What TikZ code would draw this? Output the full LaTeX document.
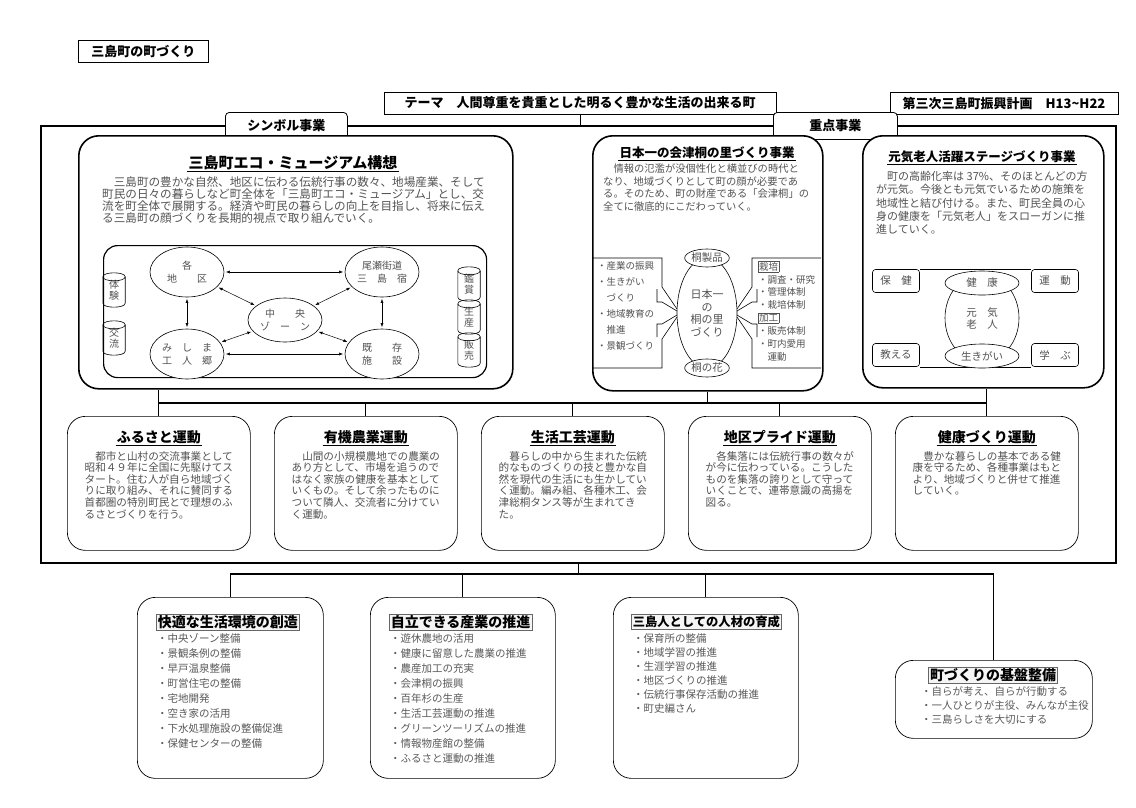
\documentclass[tikz,border=0pt]{standalone}
\usepackage{fontspec}
\setmainfont{Noto Sans CJK JP}
\usetikzlibrary{arrows.meta,calc,shapes.geometric}
\setlength\fboxsep{0.6pt}
\setlength\fboxrule{0.4pt}
\tikzset{
  hdr/.style={draw, line width=0.7, inner sep=0, font=\fontsize{13}{15}\selectfont\bfseries},
  tabbox/.style={draw, line width=0.8, rounded corners=4, fill=white, inner sep=0, anchor=north west, font=\fontsize{13}{15}\selectfont\bfseries},
  bigbox/.style={draw, line width=1.6, rounded corners=20, fill=white, inner sep=0, anchor=north west},
  movbox/.style={draw, line width=0.7, rounded corners=18, fill=white, inner sep=0, anchor=north west, minimum width=183, minimum height=134},
  botbox/.style={draw, line width=0.7, rounded corners=18, fill=white, inner sep=0, anchor=north west},
  ttlA/.style={inner sep=1, font=\fontsize{15}{17}\selectfont\bfseries},
  ttlB/.style={inner sep=1, font=\fontsize{12.5}{15}\selectfont\bfseries},
  ttlC/.style={inner sep=1, font=\fontsize{14}{16}\selectfont\bfseries},
  ul/.style={line width=0.8},
  bodytxt/.style={inner sep=0, align=left, text=black!68},
  ell/.style={ellipse, draw, line width=0.6, fill=white, inner sep=0, align=center, text=black!68, font=\fontsize{10}{13}\selectfont, minimum width=74, minimum height=50},
  cyltxt/.style={inner sep=0, minimum width=22, minimum height=26, align=center, text=black!68, font=\fontsize{10}{11}\selectfont},
  cylline/.style={line width=0.6},
  thinl/.style={line width=0.6},
  sbox/.style={draw, line width=0.6, rounded corners=3, minimum width=47, minimum height=23, inner sep=0, text=black!68, font=\fontsize{10.5}{12}\selectfont},
  sell/.style={ellipse, draw, line width=0.6, fill=white, inner sep=0, text=black!68, font=\fontsize{10.5}{12}\selectfont},
  dar/.style={<->, line width=0.5, shorten <=1.5pt, shorten >=1.5pt},
  conn/.style={line width=1.2},
  btitle/.style={draw=black!60, line width=0.5, fill=black!4, inner sep=1.5, font=\fontsize{14}{16}\selectfont\bfseries},
  bitems/.style={inner sep=0, align=left, text=black!65, font=\fontsize{10.5}{15}\selectfont},
}
\newcommand\mycyl[3]{%
  \node[cyltxt] (#1) at (#2) {#3};
  \draw[cylline] (#1.north west) -- (#1.south west) .. controls ($(#1.south west)+(0,5.3)$) and ($(#1.south east)+(0,5.3)$) .. (#1.south east) -- (#1.north east);
  \draw[cylline] (#1.north west) .. controls ($(#1.north west)+(0,-5.3)$) and ($(#1.north east)+(0,-5.3)$) .. (#1.north east) .. controls ($(#1.north east)+(0,5.3)$) and ($(#1.north west)+(0,5.3)$) .. (#1.north west);
}
\begin{document}
\begin{tikzpicture}[x=1pt,y=-1pt,>={Latex[length=4pt,width=3pt]}]
\useasboundingbox[fill=white] (0,0) rectangle (1136,807);

% ---------- header ----------
\node[hdr, minimum width=130, minimum height=22, anchor=north west] (ttl) at (78,40) {三島町の町づくり};
\node[hdr, minimum width=392, minimum height=22] (theme) at (580,103) {テーマ　人間尊重を貴重とした明るく豊かな生活の出来る町};
\node[hdr, minimum width=228, minimum height=22] (plan) at (1004,103) {第三次三島町振興計画　H13\string~H22};

% ---------- main frame ----------
\node[draw, line width=1.6, minimum width=1075, minimum height=437, anchor=north west, inner sep=0] (frame) at (40,125) {};
\draw[line width=0.9] (theme.south) -- (theme.south |- frame.north);

% ---------- tabs ----------
\node[tabbox, minimum width=122, minimum height=27] (symtab) at (225,112) {シンボル事業};
\node[tabbox, minimum width=124, minimum height=27] (jtab) at (773,112) {重点事業};

% ---------- big boxes ----------
\node[bigbox, minimum width=434, minimum height=253] (sym) at (78,135) {};
\node[bigbox, minimum width=230, minimum height=255] (mid) at (592,135) {};
\node[bigbox, minimum width=241, minimum height=252] (gen) at (862,135) {};

% ---------- symbol box ----------
\node[ttlA] (symttl) at (293,163) {三島町エコ・ミュージアム構想};
\draw[ul] (symttl.south west) -- (symttl.south east);
\node[bodytxt, anchor=north west, font=\fontsize{11.6}{12}\selectfont] (symtxt) at (102,176) {　三島町の豊かな自然、地区に伝わる伝統行事の数々、地場産業、そして\\町民の日々の暮らしなど町全体を「三島町エコ・ミュージアム」とし、交\\流を町全体で展開する。経済や町民の暮らしの向上を目指し、将来に伝え\\る三島町の顔づくりを長期的視点で取り組んでいく。};
\node[draw, line width=1.2, rounded corners=14, minimum width=383, minimum height=132, anchor=north west, inner sep=0] (inner) at (103,245) {};

\node[ell] (kaku) at (187,272) {各\\地　　区};
\node[ell] (oze) at (382,272) {尾瀬街道\\三　島　宿};
\node[ell, minimum height=44] (naka) at (285,320) {中　　央\\ゾ　ー　ン};
\node[ell] (mishi) at (187,354) {み　し　ま\\工　人　郷};
\node[ell] (kizon) at (382,354) {既　　存\\施　　設};
\draw[dar] (kaku) -- (oze);
\draw[dar] (mishi) -- (kizon);
\draw[dar] (kaku) -- (mishi);
\draw[dar] (oze) -- (kizon);
\draw[dar] (kaku) -- (naka);
\draw[dar] (oze) -- (naka);
\draw[dar] (mishi) -- (naka);
\draw[dar] (kizon) -- (naka);

\mycyl{cA}{114,290}{体\\験}
\mycyl{cB}{114,338}{交\\流}
\mycyl{cC}{469,284}{鑑\\賞}
\mycyl{cD}{469,317}{生\\産}
\mycyl{cE}{469,350}{販\\売}

% ---------- middle box ----------
\node[ttlB] (midttl) at (707,153) {日本一の会津桐の里づくり事業};
\draw[ul] (midttl.south west) -- (midttl.south east);
\node[bodytxt, anchor=north west, font=\fontsize{10.3}{12.5}\selectfont] (midtxt) at (603,164) {　情報の氾濫が没個性化と横並びの時代と\\なり、地域づくりとして町の顔が必要であ\\る。そのため、町の財産である「会津桐」の\\全てに徹底的にこだわっていく。};

\node[ellipse, draw, line width=0.6, minimum width=60, minimum height=110, inner sep=0, align=center, text=black!68, font=\fontsize{11}{12.5}\selectfont] (kiri) at (707,313) {日本一\\の\\桐の里\\づくり};
\node[sell, minimum width=44, minimum height=18] (kseihin) at (707,258) {桐製品};
\node[sell, minimum width=44, minimum height=18] (khana) at (707,368) {桐の花};
% left panel
\draw[thinl] (593,258) -- (662,258) -- (662,287) -- (677,309);
\draw[thinl] (657,289) -- (657,302) -- (662,302) -- (677,311);
\draw[thinl] (677,315) -- (662,324) -- (657,324) -- (657,337);
\draw[thinl] (677,317) -- (662,339) -- (662,368) -- (593,368);
% right panel
\draw[thinl] (821,258) -- (752,258) -- (752,287) -- (737,309);
\draw[thinl] (757,289) -- (757,302) -- (752,302) -- (737,311);
\draw[thinl] (737,315) -- (752,324) -- (757,324) -- (757,337);
\draw[thinl] (737,317) -- (752,339) -- (752,368) -- (821,368);
\node[bodytxt, anchor=north west, font=\fontsize{9.5}{16}\selectfont] (lpanel) at (597,261) {・産業の振興\\・生きがい\\　づくり\\・地域教育の\\　推進\\・景観づくり};
\node[bodytxt, anchor=north west, font=\fontsize{9.5}{12.9}\selectfont] (rpanel) at (758,261) {\fbox{栽培}\\・調査・研究\\・管理体制\\・栽培体制\\\fbox{加工}\\・販売体制\\・町内愛用\\　運動};

% ---------- right box ----------
\node[ttlB] (genttl) at (982,157) {元気老人活躍ステージづくり事業};
\draw[ul] (genttl.south west) -- (genttl.south east);
\node[bodytxt, anchor=north west, font=\fontsize{11}{13.3}\selectfont] (gentxt) at (876,171) {　町の高齢化率は 37\%、そのほとんどの方\\が元気。今後とも元気でいるための施策を\\地域性と結び付ける。また、町民全員の心\\身の健康を「元気老人」をスローガンに推\\進していく。};
\node[sbox] (hoken) at (896,281) {保　健};
\node[sbox] (undo) at (1055,281) {運　動};
\node[sbox] (oshi) at (896,355) {教える};
\node[sbox] (mana) at (1055,355) {学　ぶ};
\draw[thinl] (hoken.north east) -- (undo.north west);
\draw[thinl] (oshi.south east) -- (mana.south west);
\node[ellipse, draw, line width=0.6, minimum width=74, minimum height=88, inner sep=0, align=center, text=black!68, font=\fontsize{10.5}{12}\selectfont] (genki) at (982,318) {元　気\\老　人};
\node[sell, minimum width=74, minimum height=24] (kenk) at (982,283) {健　康};
\node[sell, minimum width=74, minimum height=24] (ikig) at (982,356) {生きがい};

% ---------- five movement boxes ----------
\node[movbox] (furu) at (67,416) {};
\node[movbox] (yuki) at (274,416) {};
\node[movbox] (seik) at (481,416) {};
\node[movbox] (chiku) at (688,416) {};
\node[movbox] (kenko) at (895,416) {};

\node[ttlC] (furut) at ($(furu.north)+(0,21)$) {ふるさと運動};
\draw[ul] (furut.south west) -- (furut.south east);
\node[ttlC] (yukit) at ($(yuki.north)+(0,21)$) {有機農業運動};
\draw[ul] (yukit.south west) -- (yukit.south east);
\node[ttlC] (seikt) at ($(seik.north)+(0,21)$) {生活工芸運動};
\draw[ul] (seikt.south west) -- (seikt.south east);
\node[ttlC] (chikut) at ($(chiku.north)+(0,21)$) {地区プライド運動};
\draw[ul] (chikut.south west) -- (chikut.south east);
\node[ttlC] (kenkot) at ($(kenko.north)+(0,21)$) {健康づくり運動};
\draw[ul] (kenkot.south west) -- (kenkot.south east);

\node[bodytxt, anchor=north, font=\fontsize{10.6}{11.6}\selectfont] (furux) at ($(furu.north)+(0,35)$) {　都市と山村の交流事業として\\昭和４９年に全国に先駆けてス\\タート。住む人が自ら地域づく\\りに取り組み、それに賛同する\\首都圏の特別町民とで理想のふ\\るさとづくりを行う。};
\node[bodytxt, anchor=north, font=\fontsize{10.6}{11.6}\selectfont] (yukix) at ($(yuki.north)+(0,35)$) {　山間の小規模農地での農業の\\あり方として、市場を追うので\\はなく家族の健康を基本として\\いくもの。そして余ったものに\\ついて隣人、交流者に分けてい\\く運動。};
\node[bodytxt, anchor=north, font=\fontsize{10.6}{11.6}\selectfont] (seikx) at ($(seik.north)+(0,35)$) {　暮らしの中から生まれた伝統\\的なものづくりの技と豊かな自\\然を現代の生活にも生かしてい\\く運動。編み組、各種木工、会\\津総桐タンス等が生まれてき\\た。};
\node[bodytxt, anchor=north, font=\fontsize{10.6}{11.6}\selectfont] (chikux) at ($(chiku.north)+(0,35)$) {　各集落には伝統行事の数々が\\が今に伝わっている。こうした\\ものを集落の誇りとして守って\\いくことで、連帯意識の高揚を\\図る。};
\node[bodytxt, anchor=north, font=\fontsize{10.6}{11.6}\selectfont] (kenkox) at ($(kenko.north)+(0,35)$) {　豊かな暮らしの基本である健\\康を守るため、各種事業はもと\\より、地域づくりと併せて推進\\していく。};

% connectors upper
\coordinate (hl) at (0,403);
\draw[conn] (sym.south -| furu.north) -- (furu.north);
\draw[conn] (furu.north |- hl) -- (kenko.north |- hl);
\draw[conn] (mid.south) -- (mid.south |- hl);
\draw[conn] (gen.south -| kenko.north) -- (kenko.north);
\foreach \b in {yuki,seik,chiku} \draw[conn] (\b.north |- hl) -- (\b.north);

% ---------- bottom boxes ----------
\node[botbox, minimum width=186, minimum height=181] (b1) at (137,597) {};
\node[botbox, minimum width=185, minimum height=181] (b2) at (370,597) {};
\node[botbox, minimum width=185, minimum height=181] (b3) at (613,597) {};
\node[botbox, minimum width=197, minimum height=78] (b4) at (895,660) {};

\node[btitle, anchor=west] (b1t) at (156,622) {快適な生活環境の創造};
\node[bitems, anchor=north west] (b1i) at (157,633) {・中央ゾーン整備\\・景観条例の整備\\・早戸温泉整備\\・町営住宅の整備\\・宅地開発\\・空き家の活用\\・下水処理施設の整備促進\\・保健センターの整備};
\node[btitle, anchor=west] (b2t) at (389,622) {自立できる産業の推進};
\node[bitems, anchor=north west] (b2i) at (390,633) {・遊休農地の活用\\・健康に留意した農業の推進\\・農産加工の充実\\・会津桐の振興\\・百年杉の生産\\・生活工芸運動の推進\\・グリーンツーリズムの推進\\・情報物産館の整備\\・ふるさと運動の推進};
\node[btitle, anchor=west, font=\fontsize{12.3}{15}\selectfont\bfseries] (b3t) at (631,622) {三島人としての人材の育成};
\node[bitems, anchor=north west, font=\fontsize{10.5}{14}\selectfont] (b3i) at (633,633) {・保育所の整備\\・地域学習の推進\\・生涯学習の推進\\・地区づくりの推進\\・伝統行事保存活動の推進\\・町史編さん};
\node[btitle] (b4t) at (993,675) {町づくりの基盤整備};
\node[bitems, anchor=north west, font=\fontsize{10.5}{14}\selectfont] (b4i) at (921,686) {・自らが考え、自らが行動する\\・一人ひとりが主役、みんなが主役\\・三島らしさを大切にする};

% connectors lower
\coordinate (hl2) at (578,574);
\draw[conn] (frame.south) -- (frame.south |- hl2);
\draw[conn] (b1.north |- hl2) -- (b4.north |- hl2);
\foreach \b in {b1,b2,b3,b4} \draw[conn] (\b.north |- hl2) -- (\b.north);

\end{tikzpicture}
\end{document}
